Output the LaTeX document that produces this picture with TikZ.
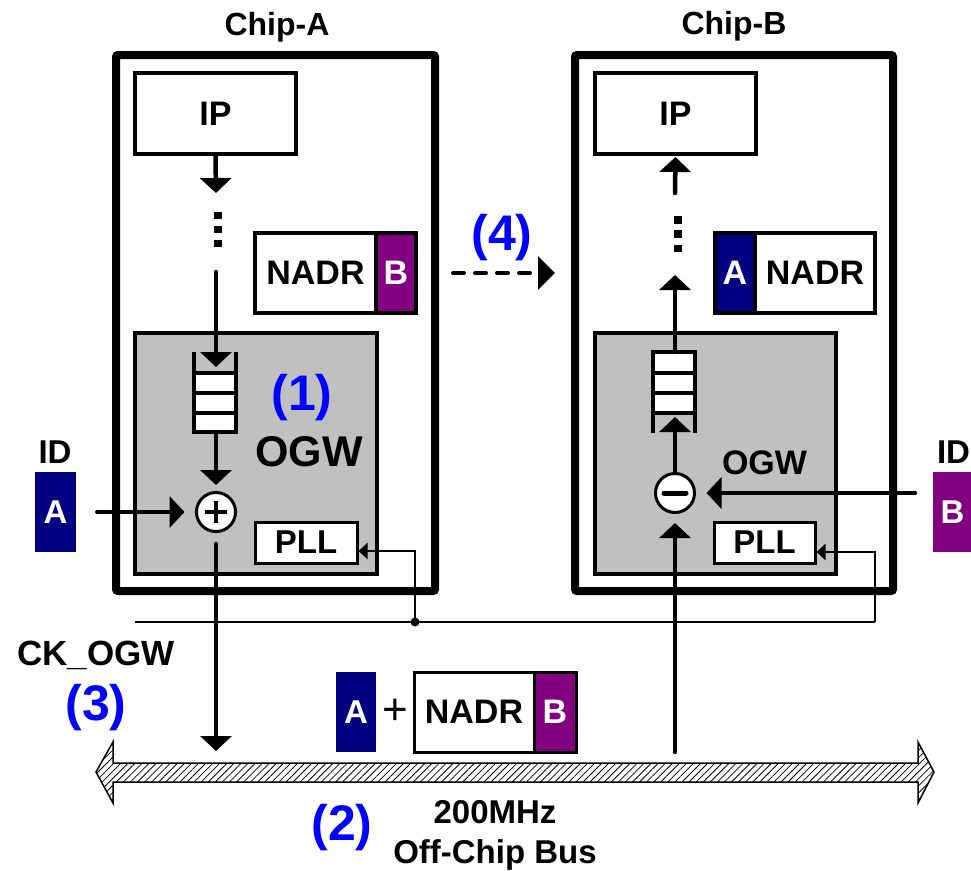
\documentclass[tikz,border=0pt]{standalone}
\usepackage{fontspec}
\setmainfont{Liberation Sans}
\usetikzlibrary{arrows.meta,patterns.meta}
\definecolor{navyc}{RGB}{0,0,128}
\definecolor{purp}{RGB}{128,0,128}
\definecolor{grayc}{RGB}{192,192,192}
\definecolor{numblue}{RGB}{0,0,255}
\begin{document}
\begin{tikzpicture}[x=1pt,y=-1pt,
  f/.style={font=\fontsize{#1}{#1}\selectfont\bfseries},
  txt/.style={inner sep=0pt, anchor=base},
  num/.style={txt, f=50, text=numblue},
  chip/.style={draw, line width=8pt, rounded corners=2pt, inner sep=0pt},
  ogw/.style={draw, fill=grayc, line width=3.5pt, inner sep=0pt},
  wbox/.style={draw, fill=white, line width=3.5pt, inner sep=0pt, f=34},
  cbox/.style={draw, line width=3.5pt, text=white, inner sep=0pt, f=34},
  idbox/.style={inner sep=0pt, text=white, f=33, minimum width=41pt, minimum height=80pt},
  qline/.style={line width=4pt},
  arr/.style={line width=4.5pt, line cap=round, -{Triangle[width=31pt,length=15pt]}},
  clk/.style={line width=2.5pt},
  clkarr/.style={clk, -{Triangle[width=16pt,length=9pt]}},
  opcircle/.style={circle, draw, fill=white, line width=3pt, minimum size=39pt, inner sep=0pt}
]
\useasboundingbox (0,0) rectangle (971,870);

% chips
\node[chip, minimum width=319pt, minimum height=536pt] (chipA) at (275.5,323) {};
\node[chip, minimum width=318pt, minimum height=536pt] (chipB) at (734,323) {};
\node[txt, f=32] (tA) at (277,35) {Chip-A};
\node[txt, f=32] (tB) at (734,34) {Chip-B};

% OGW blocks
\node[ogw, minimum width=242pt, minimum height=241pt] (ogwA) at (256,453.5) {};
\node[ogw, minimum width=241pt, minimum height=241pt] (ogwB) at (715.5,453.5) {};
\node[txt, f=43] (ogwAl) at (309,466) {OGW};
\node[txt, f=34] (ogwBl) at (764.5,474) {OGW};

% IP boxes
\node[wbox, line width=4pt, minimum width=161pt, minimum height=81pt] (ipA) at (215.5,113.5) {IP};
\node[wbox, line width=4pt, minimum width=161pt, minimum height=81pt] (ipB) at (675.5,113.5) {IP};

% NADR boxes
\node[wbox, minimum width=121pt, minimum height=80pt] (nadrA) at (315.5,273) {NADR};
\node[cbox, fill=purp, minimum width=40pt, minimum height=80pt] (nadrAid) at (396,273) {B};
\node[wbox, minimum width=120pt, minimum height=80pt] (nadrB) at (815,273) {NADR};
\node[cbox, fill=navyc, minimum width=40pt, minimum height=80pt] (nadrBid) at (735,273) {A};

% PLL
\node[wbox, line width=3pt, f=33, minimum width=102pt, minimum height=41pt] (pllA) at (306,542.5) {PLL};
\node[wbox, line width=3pt, f=33, minimum width=101pt, minimum height=41pt] (pllB) at (764.5,542.5) {PLL};

% ID
\node[txt, f=33] (idAl) at (55,463) {ID};
\node[txt, f=33] (idBl) at (953.5,463) {ID};
\node[idbox, fill=navyc] (idA) at (55.5,512) {A};
\node[idbox, fill=purp, minimum width=39pt] (idB) at (952.5,512) {B};

% numbers and labels
\node[num] (n1) at (302,410) {(1)};
\node[num] (n4) at (502,250) {(4)};
\node[txt, f=35] (ck) at (96,665) {CK\_OGW};
\node[num] (n3) at (96,720) {(3)};
\node[num] (n2) at (342,840) {(2)};
\node[txt, f=33] (mhz) at (495,823) {200MHz};
\node[txt, f=33] (ocb) at (495,863) {Off-Chip Bus};

% packet on the bus
\node[idbox, fill=navyc, minimum width=40pt] (pA) at (356,712) {A};
\node[inner sep=0pt, font=\fontsize{44}{44}\selectfont] (plus) at (395,712) {+};
\node[wbox, line width=3pt, minimum width=120pt, minimum height=80pt] (pN) at (474,712) {NADR};
\node[cbox, line width=3pt, fill=purp, minimum width=42pt, minimum height=80pt] (pB) at (555,712) {B};

% bus
\draw[line width=1.5pt, line join=miter, pattern={Lines[angle=45,distance=5pt,line width=0.8pt]}]
  (96,772) -- (113,742) -- (113,763) -- (918,763) -- (918,742) -- (934,772)
  -- (918,803) -- (918,782) -- (113,782) -- (113,803) -- cycle;
\coordinate (busA) at (216,763);
\coordinate (busB) at (675,763);

% queues
\fill[white] (194,373) rectangle (236,432);
\draw[qline] (194,352) -- (194,432) -- (236,432) -- (236,352);
\draw[qline] (194,373) -- (236,373) (194,393) -- (236,393) (194,413) -- (236,413);
\fill[white] (653,352) rectangle (695,413);
\draw[qline] (653,433) -- (653,352) -- (695,352) -- (695,433);
\draw[qline] (653,373) -- (695,373) (653,393) -- (695,393) (653,413) -- (695,413);

% dots
\fill (214.25,211.75) rectangle ++(7.5,7.5);
\fill (214.25,225.75) rectangle ++(7.5,7.5);
\fill (214.25,239.75) rectangle ++(7.5,7.5);
\fill (674.25,216.25) rectangle ++(7.5,7.5);
\fill (674.25,230.25) rectangle ++(7.5,7.5);
\fill (674.25,244.75) rectangle ++(7.5,7.5);

% operators
\node[opcircle] (plusA) at (216,512) {};
\node[opcircle] (minusB) at (675,493) {};
\draw[line width=4pt] ([xshift=-11pt]plusA.center) -- ([xshift=11pt]plusA.center)
  ([yshift=-11pt]plusA.center) -- ([yshift=11pt]plusA.center);
\draw[line width=5pt, line cap=round] ([xshift=-11pt]minusB.center) -- ([xshift=11pt]minusB.center);

% coordinates
\coordinate (dA1) at (216,193);
\coordinate (dA2) at (216,272);
\coordinate (qAin) at (216,367);
\coordinate (qAout) at (216,432);
\coordinate (dB1) at (675,193);
\coordinate (dB2) at (675,275);
\coordinate (qBout) at (675,352);
\coordinate (qBin) at (675,417);
\coordinate (idBin) at (915,493);
\coordinate (d4s) at (453,273);
\coordinate (d4e) at (555,273);

% chip A data path
\draw[arr] (ipA.south) -- (dA1);
\draw[arr] (dA2) -- (qAin);
\draw[arr, shorten >=6pt] (qAout) -- (plusA.north);
\draw[arr, shorten <=21pt, shorten >=10.5pt] (idA.east) -- (plusA.west);
\draw[arr, shorten <=11pt, shorten >=12pt] (plusA.south) -- (busA);

% chip B data path
\draw[arr, shorten >=1pt] (dB1) -- (ipB.south);
\draw[arr] (qBout) -- (dB2);
\draw[arr, shorten <=1pt] (minusB.north) -- (qBin);
\draw[arr, shorten >=10.5pt] (idBin) -- (minusB.east);
\draw[arr, shorten <=11pt, shorten >=9pt] (busB) -- (minusB.south);

% dashed arrow (4)
\draw[line width=4pt, line cap=round, dash pattern=on 11pt off 11pt, -{Triangle[width=33pt,length=17pt]}] (d4s) -- (d4e);

% clock
\coordinate (ckL) at (135,622);
\coordinate (ckR) at (875,622);
\node[circle, fill, inner sep=0pt, minimum size=9pt] (ckJ) at (415,622) {};
\draw[clk] (ckL) -- (ckR);
\draw[clkarr] (ckJ.center) |- ([yshift=-8.5pt]pllA.east);
\draw[clkarr] (ckR) |- ([yshift=-9.5pt]pllB.east);
\end{tikzpicture}
\end{document}
